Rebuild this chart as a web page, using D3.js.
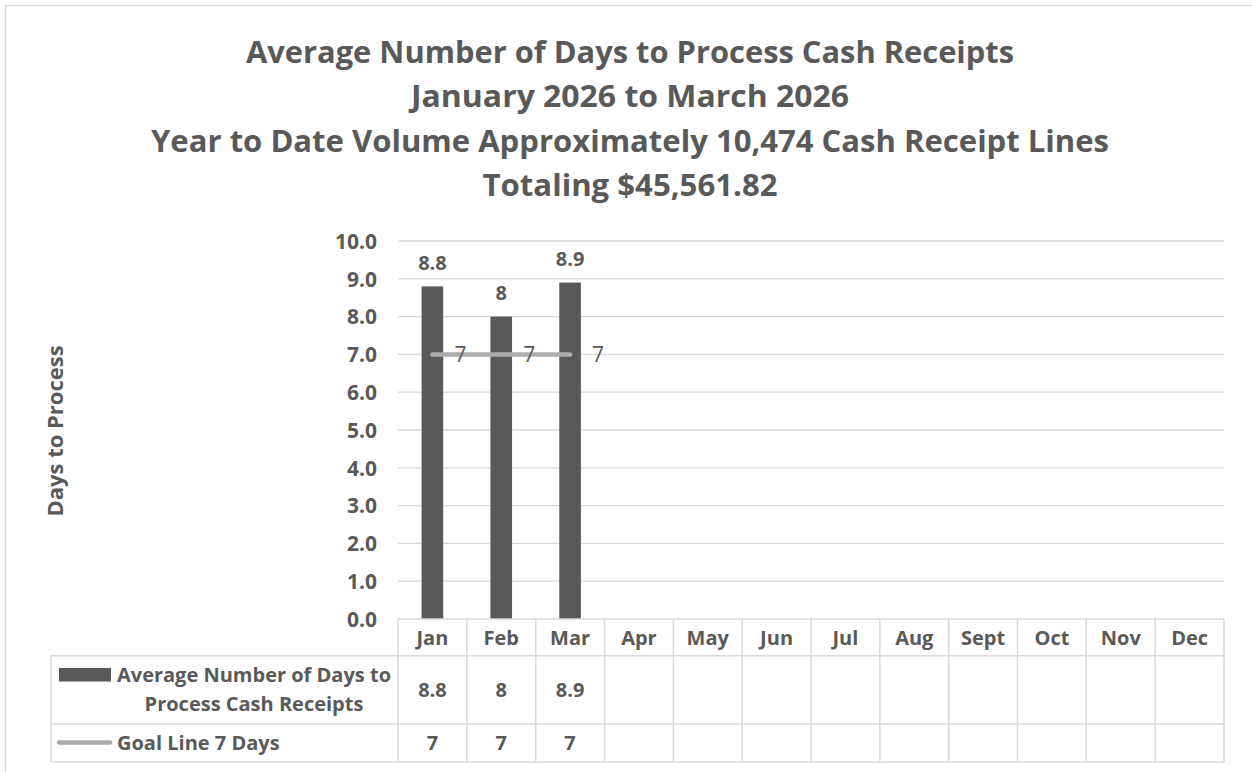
<!DOCTYPE html>
<html>
<head>
<meta charset="utf-8">
<script src="https://cdn.jsdelivr.net/npm/d3@7"></script>
<style>
  html, body { margin: 0; padding: 0; background: #ffffff; }
  svg { display: block; }
  text { font-family: "Open Sans", "Lato", "DejaVu Sans", sans-serif; fill: #595959; }
</style>
</head>
<body>
<svg id="chart" width="1252" height="772"></svg>
<script>
// ---- Data ----
const months = ["Jan", "Feb", "Mar", "Apr", "May", "Jun", "Jul", "Aug", "Sept", "Oct", "Nov", "Dec"];
const avgDays = [8.8, 8, 8.9];
const goalDays = [7, 7, 7];
const yTicks = [0, 1, 2, 3, 4, 5, 6, 7, 8, 9, 10];
const titleLines = [
  "Average Number of Days to Process Cash Receipts",
  "January 2026 to March 2026",
  "Year to Date Volume Approximately 10,474 Cash Receipt Lines",
  "Totaling $45,561.82"
];
const seriesNames = ["Average Number of Days to", "Process Cash Receipts"];
const goalName = "Goal Line 7 Days";
const yAxisTitle = "Days to Process";

// ---- Layout ----
const plotL = 398, plotR = 1224, plotT = 241, plotB = 619;
const tableL = 51;
const rowHeader = [619, 655.7];
const row1 = [655.7, 724];
const row2 = [724, 762];
const textColor = "#595959";
const barColor = "#595959";
const goalColor = "#adadad";
const gridColor = "#d9d9d9";
const fam = '"Open Sans", "Lato", sans-serif';
const fs = 20;

const svg = d3.select("#chart");

// outer frame
svg.append("rect")
  .attr("x", 5.5).attr("y", 5.5)
  .attr("width", 1300).attr("height", 820)
  .attr("fill", "none").attr("stroke", gridColor).attr("stroke-width", 1.5);

// ---- Title ----
const titleWidths = [768, 438, 958, 295];
const titleBase = [63, 107, 152, 196];
svg.append("g").selectAll("text").data(titleLines).join("text")
  .attr("x", 630)
  .attr("y", (d, i) => titleBase[i])
  .attr("text-anchor", "middle")
  .attr("font-size", 30)
  .attr("font-weight", "bold")
  .attr("textLength", (d, i) => titleWidths[i])
  .attr("lengthAdjust", "spacingAndGlyphs")
  .text(d => d);

// ---- Scales ----
const x = d3.scaleBand().domain(months).range([plotL, plotR]).padding(0);
const y = d3.scaleLinear().domain([0, 10]).range([plotB, plotT]);

// gridlines
svg.append("g").selectAll("line").data(yTicks.filter(t => t > 0)).join("line")
  .attr("x1", plotL).attr("x2", plotR)
  .attr("y1", d => y(d)).attr("y2", d => y(d))
  .attr("stroke", gridColor).attr("stroke-width", 1.3);

// y axis labels via d3 axis
const yAxis = d3.axisLeft(y).tickValues(yTicks).tickFormat(d3.format(".1f")).tickSize(0).tickPadding(0);
const yG = svg.append("g").attr("transform", `translate(377,0)`).call(yAxis);
yG.select(".domain").remove();
yG.selectAll("text")
  .attr("font-size", 21).attr("font-weight", "bold")
  .attr("fill", textColor)
  .style("font-family", fam)
  .attr("dy", "0.35em");

// y axis title
svg.append("text")
  .attr("transform", "translate(63,431) rotate(-90)")
  .attr("text-anchor", "middle")
  .attr("font-size", 22).attr("font-weight", "bold")
  .text(yAxisTitle);

// ---- Bars ----
const barW = x.bandwidth() * 0.314;
const barData = avgDays.map((v, i) => ({ m: months[i], v }));
svg.append("g").selectAll("rect").data(barData).join("rect")
  .attr("x", d => x(d.m) + x.bandwidth() / 2 - barW / 2)
  .attr("y", d => y(d.v))
  .attr("width", barW)
  .attr("height", d => y(0) - y(d.v))
  .attr("fill", barColor);

svg.append("g").selectAll("text").data(barData).join("text")
  .attr("x", d => x(d.m) + x.bandwidth() / 2)
  .attr("y", d => y(d.v) - 24)
  .attr("dy", "0.36em")
  .attr("text-anchor", "middle")
  .attr("font-size", fs).attr("font-weight", "bold")
  .text(d => d.v);

// ---- Goal line ----
const goalData = goalDays.map((v, i) => ({ m: months[i], v }));
const line = d3.line().x(d => x(d.m) + x.bandwidth() / 2).y(d => y(d.v));
svg.append("path").datum(goalData)
  .attr("d", line)
  .attr("fill", "none").attr("stroke", goalColor)
  .attr("stroke-width", 4.5).attr("stroke-linecap", "round");

svg.append("g").selectAll("text").data(goalData).join("text")
  .attr("x", d => x(d.m) + x.bandwidth() / 2 + 28)
  .attr("y", d => y(d.v))
  .attr("dy", "0.36em")
  .attr("text-anchor", "middle")
  .attr("font-size", 21)
  .text(d => d.v);

// ---- Data table ----
const tg = svg.append("g");
function hline(x1, x2, yy) {
  tg.append("line").attr("x1", x1).attr("x2", x2).attr("y1", yy).attr("y2", yy)
    .attr("stroke", gridColor).attr("stroke-width", 1.5);
}
function vline(xx, y1, y2) {
  tg.append("line").attr("x1", xx).attr("x2", xx).attr("y1", y1).attr("y2", y2)
    .attr("stroke", gridColor).attr("stroke-width", 1.5);
}
hline(plotL, plotR, rowHeader[0]);
hline(tableL, plotR, row1[0]);
hline(tableL, plotR, row2[0]);
hline(tableL, plotR, row2[1]);
vline(tableL, row1[0], row2[1]);
months.forEach(m => vline(x(m), rowHeader[0], row2[1]));
vline(plotR, rowHeader[0], row2[1]);

// header month labels
tg.selectAll("text.month").data(months).join("text")
  .attr("class", "month")
  .attr("x", d => x(d) + x.bandwidth() / 2)
  .attr("y", (rowHeader[0] + rowHeader[1]) / 2)
  .attr("dy", "0.36em")
  .attr("text-anchor", "middle")
  .attr("font-size", fs).attr("font-weight", "bold")
  .text(d => d);

// row values
tg.selectAll("text.v1").data(barData).join("text")
  .attr("class", "v1")
  .attr("x", d => x(d.m) + x.bandwidth() / 2)
  .attr("y", (row1[0] + row1[1]) / 2)
  .attr("dy", "0.36em")
  .attr("text-anchor", "middle")
  .attr("font-size", fs).attr("font-weight", "bold")
  .text(d => d.v);

tg.selectAll("text.v2").data(goalData).join("text")
  .attr("class", "v2")
  .attr("x", d => x(d.m) + x.bandwidth() / 2)
  .attr("y", (row2[0] + row2[1]) / 2)
  .attr("dy", "0.36em")
  .attr("text-anchor", "middle")
  .attr("font-size", fs).attr("font-weight", "bold")
  .text(d => d.v);

// legend keys + names
tg.append("rect").attr("x", 59).attr("y", 668).attr("width", 52).attr("height", 13.5).attr("fill", barColor);
tg.append("text").attr("x", 254).attr("y", 675).attr("dy", "0.36em")
  .attr("text-anchor", "middle").attr("font-size", fs).attr("font-weight", "bold")
  .text(seriesNames[0]);
tg.append("text").attr("x", 254).attr("y", 704).attr("dy", "0.36em")
  .attr("text-anchor", "middle").attr("font-size", fs).attr("font-weight", "bold")
  .text(seriesNames[1]);

tg.append("line").attr("x1", 59).attr("x2", 110).attr("y1", 742.5).attr("y2", 742.5)
  .attr("stroke", goalColor).attr("stroke-width", 4.5).attr("stroke-linecap", "round");
tg.append("text").attr("x", 117).attr("y", 742.5).attr("dy", "0.36em")
  .attr("text-anchor", "start").attr("font-size", fs).attr("font-weight", "bold")
  .text(goalName);
</script>
</body>
</html>
